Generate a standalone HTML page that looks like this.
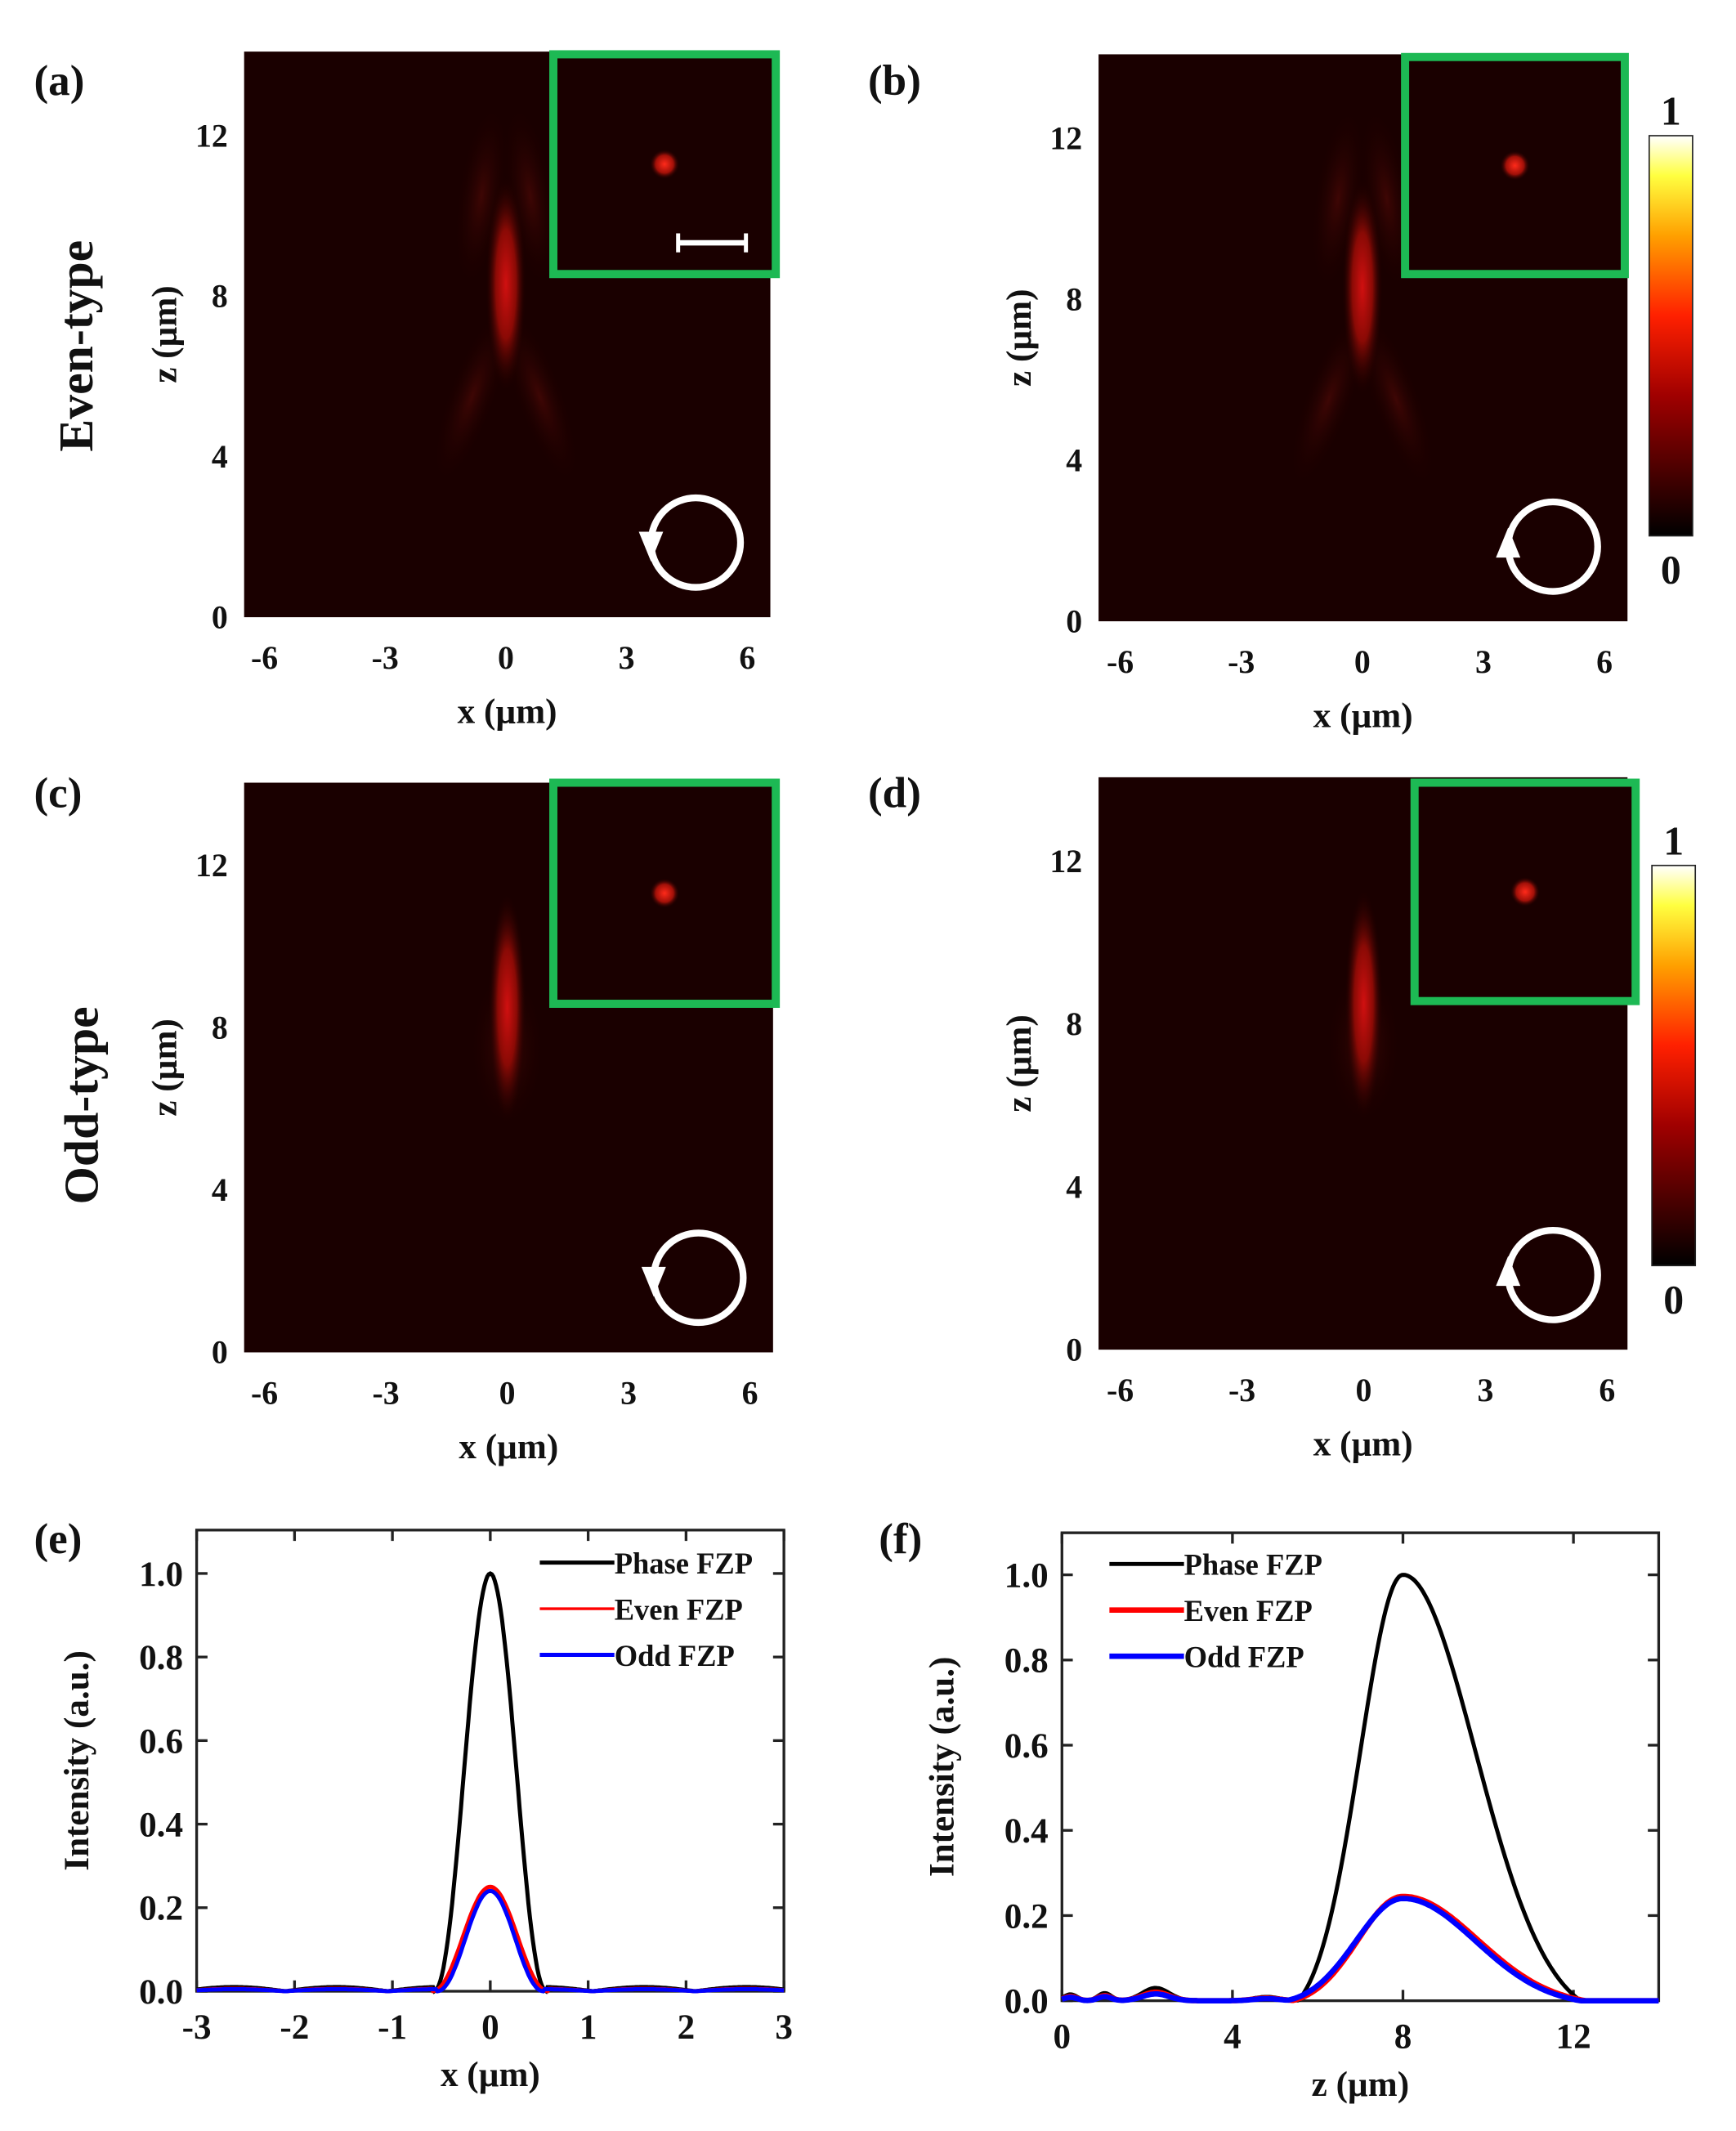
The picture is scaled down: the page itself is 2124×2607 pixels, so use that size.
<!DOCTYPE html>
<html><head><meta charset="utf-8">
<style>
html,body{margin:0;padding:0;background:#fff;}
svg{display:block;}
text{font-family:"Liberation Serif",serif;font-weight:bold;fill:#111;}
</style></head>
<body>
<svg id="s" width="2124" height="2607" viewBox="0 0 1280 1571" xmlns="http://www.w3.org/2000/svg">
<defs>
<radialGradient id="beam" cx="50%" cy="50%" r="50%">
<stop offset="0" stop-color="#d01010"/><stop offset="0.5" stop-color="#8a0a05"/><stop offset="1" stop-color="#1a0000" stop-opacity="0"/>
</radialGradient>
<radialGradient id="faint" cx="50%" cy="50%" r="50%">
<stop offset="0" stop-color="#3e0604"/><stop offset="1" stop-color="#1a0000" stop-opacity="0"/>
</radialGradient>
<radialGradient id="dot" cx="50%" cy="50%" r="50%">
<stop offset="0" stop-color="#ff2a1a"/><stop offset="0.6" stop-color="#a01008"/><stop offset="1" stop-color="#1a0000" stop-opacity="0"/>
</radialGradient>
<linearGradient id="cb" x1="0" y1="1" x2="0" y2="0">
<stop offset="0" stop-color="#000"/><stop offset="0.35" stop-color="#a00000"/><stop offset="0.55" stop-color="#ff2000"/><stop offset="0.75" stop-color="#ffa000"/><stop offset="0.9" stop-color="#ffff40"/><stop offset="1" stop-color="#ffffff"/>
</linearGradient>
</defs>
<g id="root"></g>
</svg>
<script>
const NS="http://www.w3.org/2000/svg",R=document.getElementById('root');
function el(t,a,txt){const e=document.createElementNS(NS,t);for(const k in a)e.setAttribute(k,a[k]);if(txt!=null)e.textContent=txt;R.appendChild(e);return e;}
function T(s,x,y,size,anchor,extra){return el('text',Object.assign({x,y,'font-size':size||22,'text-anchor':anchor||'middle'},extra||{}),s);}
function heat(L,Rr,Tp,B,x0,z0,inset,odd,arrowUp,label,lx,ly){
 el('rect',{x:L,y:Tp,width:Rr-L,height:B-Tp,fill:'#1a0000'});
 const sx=(x0[1]-x0[0])/12, sz=(z0[0]-z0[1])/12, cx=x0[0]+6*sx;
 const zy=z=>z0[0]-z*sz;
 if(!odd){
  el('ellipse',{cx:cx-18,cy:zy(10.5),rx:18,ry:70,fill:'url(#faint)',transform:`rotate(8 ${cx-18} ${zy(10.5)})`});
  el('ellipse',{cx:cx+18,cy:zy(10.5),rx:18,ry:70,fill:'url(#faint)',transform:`rotate(-8 ${cx+18} ${zy(10.5)})`});
  el('ellipse',{cx:cx-25,cy:zy(5.5),rx:18,ry:70,fill:'url(#faint)',transform:`rotate(20 ${cx-25} ${zy(5.5)})`});
  el('ellipse',{cx:cx+25,cy:zy(5.5),rx:18,ry:70,fill:'url(#faint)',transform:`rotate(-20 ${cx+25} ${zy(5.5)})`});
  el('ellipse',{cx,cy:zy(8.3),rx:15,ry:80,fill:'url(#beam)'});
 } else {
  el('ellipse',{cx,cy:zy(7.5),rx:28,ry:60,fill:'url(#faint)'});
  el('ellipse',{cx,cy:zy(8.5),rx:14,ry:85,fill:'url(#beam)'});
 }
 el('rect',{x:inset[0],y:inset[1],width:inset[2],height:inset[3],fill:'#1a0000',stroke:'#1db954','stroke-width':6});
 const dx=inset[0]+inset[2]*0.5, dy=inset[1]+inset[3]*0.5;
 el('circle',{cx:dx,cy:dy,r:11,fill:'url(#dot)'});
 const ccx=(L+Rr)/2+140+(Rr-L-390)/2, ccy=B-55;
 el('circle',{cx:ccx,cy:ccy,r:33,fill:'none',stroke:'#fff','stroke-width':5});
 if(!arrowUp) el('path',{d:`M${ccx-42},${ccy-8} L${ccx-24},${ccy-8} L${ccx-33},${ccy+14}z`,fill:'#fff'});
 else el('path',{d:`M${ccx-42},${ccy+8} L${ccx-24},${ccy+8} L${ccx-33},${ccy-14}z`,fill:'#fff'});
 [-6,-3,0,3,6].forEach(v=>{const x=cx+v*sx;T(v,x,B+38,24);});
 [0,4,8,12].forEach(v=>T(v,L-12,zy(v)+8,24,'end'));
 T('x (µm)',(L+Rr)/2,B+78,26);
 T('z (µm)',0,0,26,'middle',{transform:`translate(${L-50},${(Tp+B)/2}) rotate(-90)`});
 T(label,lx,ly,32,'start');
}
heat(180,568,38,455,[195,551],[455,100],[408,40,164,162],false,false,'(a)',25,70);
el('line',{x1:500,y1:179,x2:550,y2:179,stroke:'#fff','stroke-width':4});
el('line',{x1:500,y1:172,x2:500,y2:186,stroke:'#fff','stroke-width':3});
el('line',{x1:550,y1:172,x2:550,y2:186,stroke:'#fff','stroke-width':3});
heat(810,1200,40,458,[826,1183],[458,102],[1036,42,162,160],false,true,'(b)',640,70);
heat(180,570,577,997,[195,553],[997,638],[408,577,164,163],true,false,'(c)',25,595);
heat(810,1200,573,995,[826,1185],[995,635],[1043,577,163,161],true,true,'(d)',640,595);
T('Even-type',0,0,36,'middle',{transform:'translate(68,255) rotate(-90)'});
T('Odd-type',0,0,36,'middle',{transform:'translate(72,815) rotate(-90)'});
[[1216,100,395],[1218,638,933]].forEach(([x,t,b])=>{el('rect',{x,y:t,width:32,height:b-t,fill:'url(#cb)',stroke:'#222','stroke-width':1});T('1',x+16,t-8,30);T('0',x+16,b+35,30);});
function lp(L,Rr,Tp,B,xr,xt,yr,curves,xlab,label,lx,ly,leg){
 el('rect',{x:L,y:Tp,width:Rr-L,height:B-Tp,fill:'none',stroke:'#222','stroke-width':2});
 const X=v=>L+(v-xr[0])/(xr[1]-xr[0])*(Rr-L), Y=v=>yr[0]-v*(yr[0]-yr[1]);
 xt.forEach(v=>{el('line',{x1:X(v),y1:B,x2:X(v),y2:B-8,stroke:'#222','stroke-width':2});el('line',{x1:X(v),y1:Tp,x2:X(v),y2:Tp+8,stroke:'#222','stroke-width':2});T(v,X(v),B+35,26);});
 [0,0.2,0.4,0.6,0.8,1.0].forEach(v=>{el('line',{x1:L,y1:Y(v),x2:L+8,y2:Y(v),stroke:'#222','stroke-width':2});el('line',{x1:Rr,y1:Y(v),x2:Rr-8,y2:Y(v),stroke:'#222','stroke-width':2});T(v.toFixed(1),L-10,Y(v)+9,26,'end');});
 curves.forEach(([f,c,w])=>{let d='';for(let i=0;i<=400;i++){const v=xr[0]+(xr[1]-xr[0])*i/400;d+=(i?'L':'M')+X(v).toFixed(1)+','+Y(Math.max(0,f(v))).toFixed(1);}el('path',{d,fill:'none',stroke:c,'stroke-width':w});});
 T(xlab,(L+Rr)/2,B+70,26);
 T('Intensity (a.u.)',0,0,26,'middle',{transform:`translate(${L-80},${(Tp+B)/2}) rotate(-90)`});
 T(label,lx,ly,32,'start');
 leg.forEach(([s,c,w],i)=>{const y=leg.y0+i*34;el('line',{x1:leg.x0,y1:y,x2:leg.x0+55,y2:y,stroke:c,'stroke-width':w});T(s,leg.x0+55,y+8,22,'start',{'font-weight':'normal'});});
}
let leg1=[['Phase FZP','#000',3],['Even FZP','#f00',2],['Odd FZP','#00f',3]];leg1.x0=398;leg1.y0=1152;
lp(145,578,1128,1468,[-3,3],[-3,-2,-1,0,1,2,3],[1468,1160],[
 [x=>Math.abs(x)<0.58?Math.pow(Math.cos(Math.PI*x/1.16),2.2):0.01*Math.abs(Math.sin(3*x)),'#000',3],
 [x=>Math.abs(x)<0.6?0.25*Math.pow(Math.cos(Math.PI*x/1.2),2.2):0.006*Math.abs(Math.sin(3*x)),'#f00',3],
 [x=>Math.abs(x)<0.55?0.24*Math.pow(Math.cos(Math.PI*x/1.1),2.2):0.005*Math.abs(Math.sin(3*x)),'#00f',3]],
 'x (µm)','(e)',25,1145,leg1);
let leg2=[['Phase FZP','#000',3],['Even FZP','#f00',4],['Odd FZP','#00f',4]];leg2.x0=818;leg2.y0=1153;
const g=(z,s1,s2)=>{const s=z<8?s1:s2;const v=Math.exp(-Math.pow(z-8,2)/(2*s*s));return Math.max(0,(v-0.05)/0.95);};
const bumps=z=>0.02*Math.exp(-Math.pow(z-2.2,2)/0.2)+0.012*Math.exp(-Math.pow(z-1,2)/0.05)+0.01*Math.exp(-Math.pow(z-0.2,2)/0.05)+0.006*Math.exp(-Math.pow(z-4.8,2)/0.2);
lp(783,1223,1130,1475,[0,14],[0,4,8,12],[1475,1161],[
 [z=>g(z,1.0,1.7)+bumps(z)*1.5,'#000',3],
 [z=>0.245*g(z,1.05,1.75)+bumps(z),'#f00',4],
 [z=>0.24*g(z,1.1,1.7)+bumps(z)*0.8,'#00f',4]],
 'z (µm)','(f)',648,1145,leg2);
</script>
</body></html>
